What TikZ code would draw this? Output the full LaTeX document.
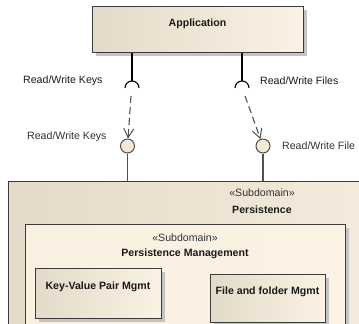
\documentclass[tikz,border=0pt]{standalone}
\usepackage{fontspec}
\setmainfont{Liberation Sans}
\usetikzlibrary{arrows.meta,shadows}
\definecolor{frame}{HTML}{3C3C3C}
\definecolor{wire}{HTML}{505050}
\definecolor{shadowgray}{HTML}{C4C4C4}
\definecolor{sandL}{HTML}{E4DAC9}
\definecolor{sandR}{HTML}{FCF2E4}
\definecolor{ballfill}{HTML}{F4E9D8}
\definecolor{txt}{HTML}{1A1A1A}
\definecolor{txtsoft}{HTML}{333333}
\begin{document}
\begin{tikzpicture}[x=1pt,y=-1pt,
  font=\fontsize{10.6}{12}\selectfont,
  box/.style={draw=frame, line width=1.2pt, inner sep=0pt, anchor=north west,
    left color=sandL, right color=sandR,
    drop shadow={shadow xshift=3pt, shadow yshift=-3pt, fill=shadowgray, opacity=1}},
  boxflat/.style={box, left color=sandR!92!sandL, right color=sandR},
  title/.style={font=\fontsize{10.6}{12}\selectfont\bfseries, text=txt, inner sep=0pt},
  stereo/.style={text=txtsoft, inner sep=0pt},
  lbl/.style={inner sep=0pt, anchor=west},
  ball/.style={circle, draw=wire, line width=1pt, fill=ballfill, minimum size=14pt, inner sep=0pt},
  solidwire/.style={draw=black, line width=1.1pt},
  greywire/.style={draw=wire, line width=1.1pt},
  dep/.style={draw=wire, line width=1.1pt, dash pattern=on 7pt off 4pt,
    -{Straight Barb[length=9pt,width=10pt,line width=1pt]}}]
\useasboundingbox (0,0) rectangle (359,324);
\clip (0,0) rectangle (359,324);
\fill[white] (0,0) rectangle (359,324);

% outer subdomain and its nested parts
\node[box, minimum width=510pt, minimum height=200pt] (pers) at (7.5,181) {};
\node[stereo] (persSt) at (262,193) {«Subdomain»};
\node[title] (persNm) at (262,210) {Persistence};

\node[boxflat, minimum width=320pt, minimum height=150pt] (pm) at (25,224) {};
\node[stereo] (pmSt) at (185,238) {«Subdomain»};
\node[title] (pmNm) at (185,254) {Persistence Management};

\node[box, minimum width=126pt, minimum height=50pt] (kv) at (35,268) {};
\node[title] (kvT) at (98,287) {Key-Value Pair Mgmt};
\node[box, minimum width=115pt, minimum height=48pt] (ff) at (210,274) {};
\node[title] (ffT) at (267.5,292) {File and folder Mgmt};

% client component
\node[box, minimum width=211pt, minimum height=46pt] (app) at (92,6) {};
\node[title] (appT) at (197.5,24) {Application};

% required interfaces (sockets)
\coordinate (sockL) at (132,88);
\coordinate (sockR) at (242,88);
\draw[solidwire] (app.south -| sockL) -- ([yshift=7pt]sockL);
\draw[solidwire] ([xshift=-7pt]sockL) arc[start angle=180, end angle=0, radius=7pt];
\draw[solidwire] (app.south -| sockR) -- ([yshift=7pt]sockR);
\draw[solidwire] ([xshift=-7pt]sockR) arc[start angle=180, end angle=0, radius=7pt];

% provided interfaces (lollipops)
\node[ball] (ballL) at (127.5,146) {};
\node[ball] (ballR) at (263,146) {};
\draw[greywire] (ballL.south) -- (ballL.south |- pers.north);
\draw[greywire] (ballR.south) -- (ballR.south |- pers.north);

% dependencies from sockets to lollipops
\coordinate (dL) at (131,96);
\coordinate (dR) at (245,96);
\draw[dep] (dL) -- (ballL);
\draw[dep] (dR) -- (ballR);

% interface labels
\node[lbl, text=txt] (lk1) at (23,81) {Read/Write Keys};
\node[lbl, text=txt] (lf1) at (260,81) {Read/Write Files};
\node[lbl, text=txtsoft] (lk2) at (27,137) {Read/Write Keys};
\node[lbl, text=txtsoft] (lf2) at (282,146) {Read/Write File};
\end{tikzpicture}
\end{document}
